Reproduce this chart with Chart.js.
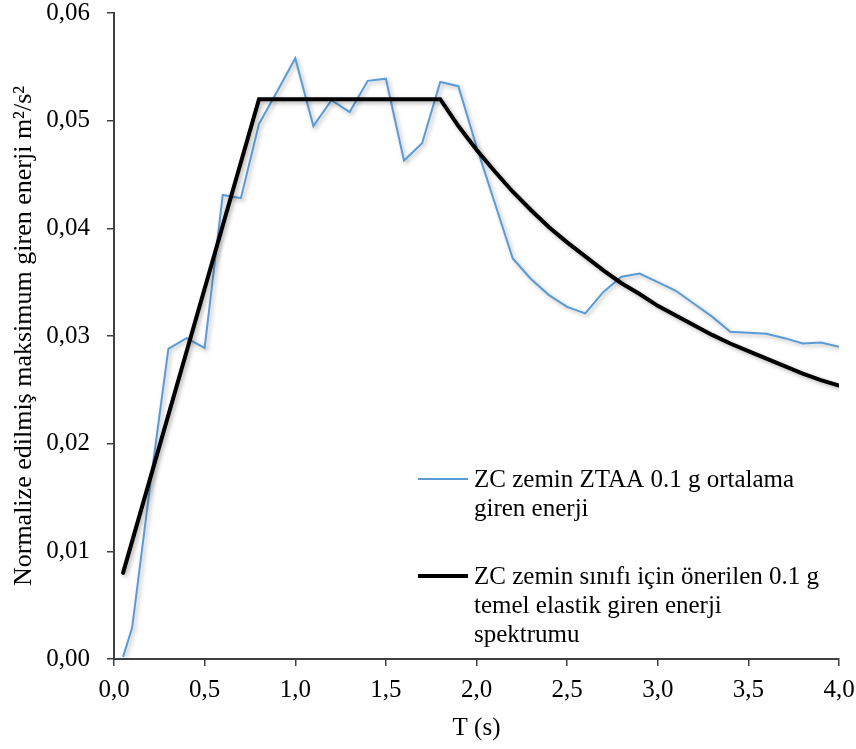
<!DOCTYPE html>
<html>
<head>
<meta charset="utf-8">
<script src="https://cdn.jsdelivr.net/npm/chart.js@4.4.0/dist/chart.umd.min.js"></script>
<style>
  html, body { margin: 0; padding: 0; background: #ffffff; }
  #wrap { width: 856px; height: 749px; }
</style>
</head>
<body>
<div id="wrap"><canvas id="c" width="856" height="749"></canvas></div>
<script>
// ---- data ----
const xTickLabels = ['0,0', '0,5', '1,0', '1,5', '2,0', '2,5', '3,0', '3,5', '4,0'];
const yTickLabels = ['0,00', '0,01', '0,02', '0,03', '0,04', '0,05', '0,06'];

const seriesNames = [
  ['ZC zemin ZTAA 0.1 g ortalama', 'giren enerji'],
  ['ZC zemin sınıfı için önerilen 0.1 g', 'temel elastik giren enerji', 'spektrumu']
];

const averageT = [0.05, 0.1, 0.2, 0.3, 0.4, 0.5, 0.6, 0.7, 0.8, 0.9, 1.0, 1.1, 1.2, 1.3, 1.4, 1.5,
  1.6, 1.7, 1.8, 1.9, 2.0, 2.1, 2.2, 2.3, 2.4, 2.5, 2.6, 2.7, 2.8, 2.9, 3.0, 3.1, 3.2, 3.3,
  3.4, 3.5, 3.6, 3.7, 3.8, 3.9, 4.0];
const averageE = [0.0002, 0.0029, 0.0162, 0.0288, 0.0298, 0.0289, 0.0431, 0.0428, 0.0497, 0.0527,
  0.0558, 0.0495, 0.0519, 0.0508, 0.0537, 0.0539, 0.0463, 0.0479, 0.0536, 0.0532, 0.0476,
  0.0424, 0.0372, 0.0353, 0.0338, 0.0327, 0.0321, 0.0341, 0.0355, 0.0358, 0.0350, 0.0342,
  0.0330, 0.0318, 0.0304, 0.0303, 0.0302, 0.0298, 0.0293, 0.0294, 0.0290];

const spectrumT = [0.05, 0.8, 1.8, 1.9, 2.0, 2.1, 2.2, 2.3, 2.4, 2.5, 2.6, 2.7, 2.8, 2.9, 3.0,
  3.1, 3.2, 3.3, 3.4, 3.5, 3.6, 3.7, 3.8, 3.9, 4.0];
const spectrumE = [0.008, 0.052, 0.052, 0.0495, 0.0473, 0.0453, 0.0434, 0.0417, 0.0401, 0.0387,
  0.0374, 0.0361, 0.0349, 0.0339, 0.0328, 0.0319, 0.0310, 0.0301, 0.0293, 0.0286, 0.0279,
  0.0272, 0.0265, 0.0259, 0.0254];

const xTitle = 'T (s)';
const yTitle = 'Normalize edilmiş maksimum giren enerji m²/s²';

// ---- styling ----
const FONT = '"Liberation Serif", "Times New Roman", serif';
const FS = 25;
const BLUE = '#5B9BD5';
const AXIS = '#404040';

const shadowPlugin = {
  id: 'lineShadow',
  beforeDatasetDraw(chart) {
    const ctx = chart.ctx;
    ctx.save();
    ctx.shadowColor = 'rgba(0,0,0,0.30)';
    ctx.shadowBlur = 4;
    ctx.shadowOffsetX = 2;
    ctx.shadowOffsetY = 2;
  },
  afterDatasetDraw(chart) {
    chart.ctx.restore();
  }
};

const legendPlugin = {
  id: 'wrapLegend',
  afterDraw(chart) {
    const ctx = chart.ctx;
    const ds = chart.data.datasets;
    const items = [
      { lines: seriesNames[0], color: ds[0].borderColor, width: ds[0].borderWidth, y: 479 },
      { lines: seriesNames[1], color: ds[1].borderColor, width: ds[1].borderWidth, y: 576 }
    ];
    ctx.save();
    ctx.font = FS + 'px ' + FONT;
    ctx.fillStyle = '#000';
    ctx.textBaseline = 'alphabetic';
    ctx.textAlign = 'left';
    items.forEach(it => {
      ctx.beginPath();
      ctx.strokeStyle = it.color;
      ctx.lineWidth = it.width;
      ctx.moveTo(418, it.y);
      ctx.lineTo(468, it.y);
      ctx.stroke();
      it.lines.forEach((t, i) => {
        ctx.fillText(t, 474, it.y + 8 + i * 29);
      });
    });
    ctx.restore();
  }
};

new Chart(document.getElementById('c'), {
  type: 'line',
  data: {
    datasets: [
      {
        label: seriesNames[0].join(' '),
        data: averageT.map((t, i) => ({ x: t, y: averageE[i] })),
        borderColor: BLUE,
        borderWidth: 2,
        pointRadius: 0,
        tension: 0,
        fill: false,
        order: 2
      },
      {
        label: seriesNames[1].join(' '),
        data: spectrumT.map((t, i) => ({ x: t, y: spectrumE[i] })),
        borderColor: '#000000',
        borderWidth: 4,
        pointRadius: 0,
        tension: 0,
        fill: false,
        borderCapStyle: 'round',
        borderJoinStyle: 'miter',
        order: 1
      }
    ]
  },
  options: {
    responsive: false,
    animation: false,
    devicePixelRatio: 1,
    layout: { padding: { top: 13, right: 17, left: 0, bottom: 0 } },
    plugins: {
      legend: { display: false },
      tooltip: { enabled: false }
    },
    scales: {
      x: {
        type: 'linear',
        min: 0,
        max: 4,
        afterFit(scale) {
          scale.height = 90;
          scale.paddingLeft = 0;
          scale.paddingRight = 0;
        },
        afterBuildTicks(scale) {
          scale.ticks = xTickLabels.map((l, i) => ({ value: i * 0.5 }));
        },
        ticks: {
          color: '#000',
          font: { family: FONT, size: FS, lineHeight: 1.2 },
          padding: 9,
          maxRotation: 0,
          autoSkip: false,
          callback: (v, i) => xTickLabels[i]
        },
        grid: { display: true, drawOnChartArea: false, drawTicks: true, tickLength: 7, color: AXIS, lineWidth: 1.5 },
        border: { display: true, color: AXIS, width: 2 },
        title: {
          display: true,
          text: xTitle,
          color: '#000',
          font: { family: FONT, size: FS, lineHeight: 1.2 },
          padding: { top: 0, bottom: 6 }
        }
      },
      y: {
        type: 'linear',
        min: 0,
        max: 0.06,
        afterFit(scale) {
          scale.width = 114;
          scale.paddingTop = 0;
          scale.paddingBottom = 0;
        },
        afterBuildTicks(scale) {
          scale.ticks = yTickLabels.map((l, i) => ({ value: i * 0.01 }));
        },
        ticks: {
          color: '#000',
          font: { family: FONT, size: FS, lineHeight: 1.0 },
          padding: 17,
          autoSkip: false,
          callback: (v, i) => yTickLabels[i]
        },
        grid: { display: true, drawOnChartArea: false, drawTicks: true, tickLength: 7, color: AXIS, lineWidth: 1.5 },
        border: { display: true, color: AXIS, width: 2 },
        title: {
          display: true,
          text: yTitle,
          color: '#000',
          font: { family: FONT, size: 26, lineHeight: 1.2 },
          padding: { top: 9, bottom: 0 }
        }
      }
    }
  },
  plugins: [shadowPlugin, legendPlugin]
});
</script>
</body>
</html>
